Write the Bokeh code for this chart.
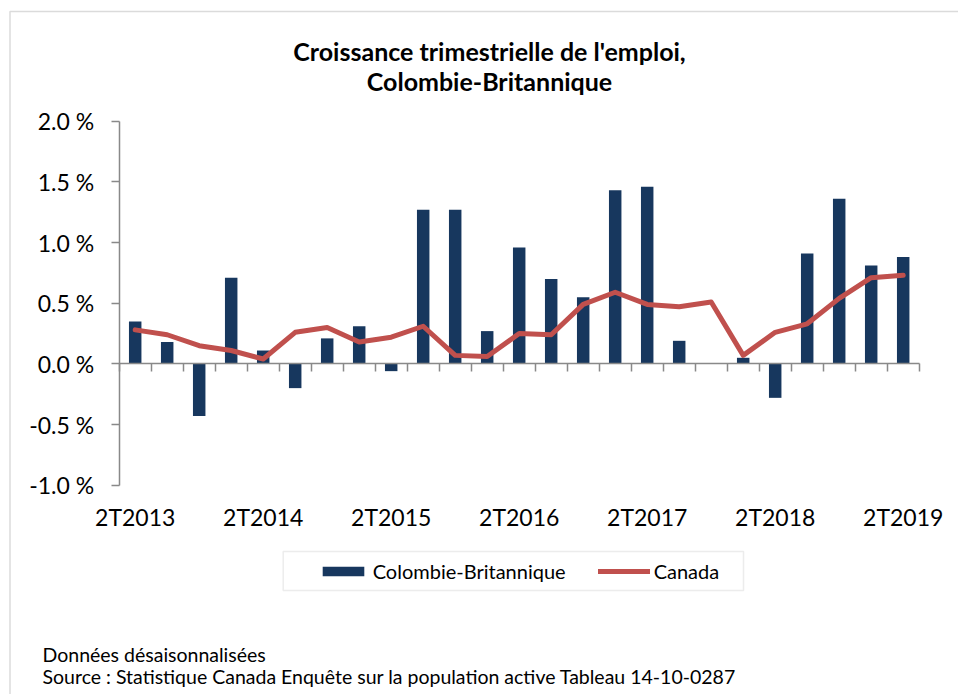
from bokeh.plotting import figure
from bokeh.models import (Range1d, FixedTicker, LinearAxis, Label, BoxAnnotation,
                          Legend, LegendItem)
from bokeh.embed import file_html
from bokeh.resources import INLINE

quarters = ["2T2013", "3T2013", "4T2013", "1T2014", "2T2014", "3T2014", "4T2014",
            "1T2015", "2T2015", "3T2015", "4T2015", "1T2016", "2T2016", "3T2016",
            "4T2016", "1T2017", "2T2017", "3T2017", "4T2017", "1T2018", "2T2018",
            "3T2018", "4T2018", "1T2019", "2T2019"]
cb_growth = [0.35, 0.18, -0.43, 0.71, 0.11, -0.20, 0.21, 0.31, -0.06, 1.27,
             1.27, 0.27, 0.96, 0.70, 0.55, 1.43, 1.46, 0.19, 0.00, 0.05,
             -0.28, 0.91, 1.36, 0.81, 0.88]
canada_growth = [0.28, 0.24, 0.15, 0.11, 0.04, 0.26, 0.30, 0.18, 0.22, 0.31,
                 0.07, 0.06, 0.25, 0.24, 0.49, 0.59, 0.49, 0.47, 0.51, 0.07,
                 0.26, 0.33, 0.54, 0.71, 0.73]
y_ticks = [-1.0, -0.5, 0.0, 0.5, 1.0, 1.5, 2.0]
y_tick_labels = ["-1.0 %", "-0.5 %", "0.0 %", "0.5 %", "1.0 %", "1.5 %", "2.0 %"]
title_lines = ["Croissance trimestrielle de l'emploi,", "Colombie-Britannique"]
series_names = ["Colombie-Britannique", "Canada"]
notes = ["Données désaisonnalisées",
         "Source : Statistique Canada Enquête sur la population active Tableau 14-10-0287"]

FONT = "Lato"
BAR = "#17375E"
RED = "#C0504D"
AXIS = "#898989"

W, H = 958, 694
n = len(quarters)
xs = [i + 0.5 for i in range(n)]

# plot area (in pixels) that the data region 0..n x -1..2 occupies
PX_L, PX_R, PX_T, PX_B = 118.7, 918.7, 120.7, 484.7
ymin, ymax = y_ticks[0], y_ticks[-1]
kx = n / (PX_R - PX_L)
ky = (ymax - ymin) / (PX_B - PX_T)
x_rng = Range1d(0 - PX_L * kx, n + (W - PX_R) * kx)
y_rng = Range1d(ymin - (H - PX_B) * ky, ymax + PX_T * ky)

p = figure(width=W, height=H, output_backend="svg", toolbar_location=None,
           x_range=x_rng, y_range=y_rng,
           min_border_left=0, min_border_right=0, min_border_top=0,
           min_border_bottom=0, x_axis_location=None, y_axis_location=None)
p.outline_line_color = None
p.xgrid.visible = False
p.ygrid.visible = False
p.background_fill_color = "white"
p.border_fill_color = "white"

bars = p.vbar(x=xs, top=cb_growth, width=0.39, fill_color=BAR, line_color=None)
line = p.line(xs, canada_growth, line_width=5, line_color=RED,
              line_cap="round", line_join="round")

# y axis
yaxis = LinearAxis(fixed_location=0, bounds=(ymin, ymax),
                   ticker=FixedTicker(ticks=y_ticks, minor_ticks=[]),
                   major_label_overrides={t: l for t, l in zip(y_ticks, y_tick_labels)},
                   major_tick_out=8, major_tick_in=0, minor_tick_out=0, minor_tick_in=0,
                   axis_line_color=AXIS, axis_line_width=1.5,
                   major_tick_line_color=AXIS, major_tick_line_width=1.5,
                   major_label_text_font=FONT, major_label_text_font_size="23px",
                   major_label_text_color="black", major_label_standoff=17)
p.add_layout(yaxis, "left")

# x labels axis (bottom of the plot area)
xaxis = LinearAxis(fixed_location=ymin,
                   ticker=FixedTicker(ticks=[xs[i] for i in range(0, n, 4)], minor_ticks=[]),
                   major_label_overrides={xs[i]: quarters[i] for i in range(0, n, 4)},
                   major_tick_out=0, major_tick_in=0, minor_tick_out=0, minor_tick_in=0,
                   axis_line_color=None, major_tick_line_color=None,
                   major_label_text_font=FONT, major_label_text_font_size="23px",
                   major_label_text_color="black", major_label_standoff=18)
p.add_layout(xaxis, "below")

# zero line with category boundary ticks
zaxis = LinearAxis(fixed_location=0, bounds=(0, n),
                   ticker=FixedTicker(ticks=list(range(n + 1)), minor_ticks=[]),
                   major_tick_in=8, major_tick_out=0, minor_tick_out=0, minor_tick_in=0,
                   axis_line_color=AXIS, axis_line_width=1.5,
                   major_tick_line_color=AXIS, major_tick_line_width=1.5,
                   major_label_text_alpha=0, major_label_text_font_size="1px")
p.add_layout(zaxis, "above")

# title
for txt, yy in zip(title_lines, [50, 80]):
    p.add_layout(Label(x=489, y=yy, x_units="canvas", y_units="canvas", text=txt,
                       text_font=FONT, text_font_style="bold", text_font_size="25px",
                       text_align="center", text_baseline="alphabetic",
                       text_color="black"))

# outer frame
p.add_layout(BoxAnnotation(left=9.5, right=990, top=11, bottom=730,
                           left_units="canvas", right_units="canvas",
                           top_units="canvas", bottom_units="canvas",
                           fill_alpha=0, line_color=AXIS, line_width=1.5))

# legend box
p.add_layout(BoxAnnotation(left=282.7, right=743, top=551, bottom=590,
                           left_units="canvas", right_units="canvas",
                           top_units="canvas", bottom_units="canvas",
                           fill_alpha=0, line_color="#BFBFBF", line_width=1.5))

legend = Legend(items=[LegendItem(label=series_names[0], renderers=[bars]),
                       LegendItem(label=series_names[1], renderers=[line])],
                orientation="horizontal", location=(316.7, 111),
                glyph_width=52, glyph_height=12, label_standoff=4, spacing=32,
                padding=0, margin=0, border_line_alpha=0, background_fill_alpha=0,
                label_text_font=FONT, label_text_font_size="20px",
                label_text_color="black")
p.add_layout(legend, "center")

for txt, yy in zip(notes, [654, 676]):
    p.add_layout(Label(x=42, y=yy, x_units="canvas", y_units="canvas", text=txt,
                       text_font=FONT, text_font_size="19.5px", text_align="left",
                       text_baseline="alphabetic", text_color="black"))

open("out.html", "w").write(file_html(p, INLINE))
